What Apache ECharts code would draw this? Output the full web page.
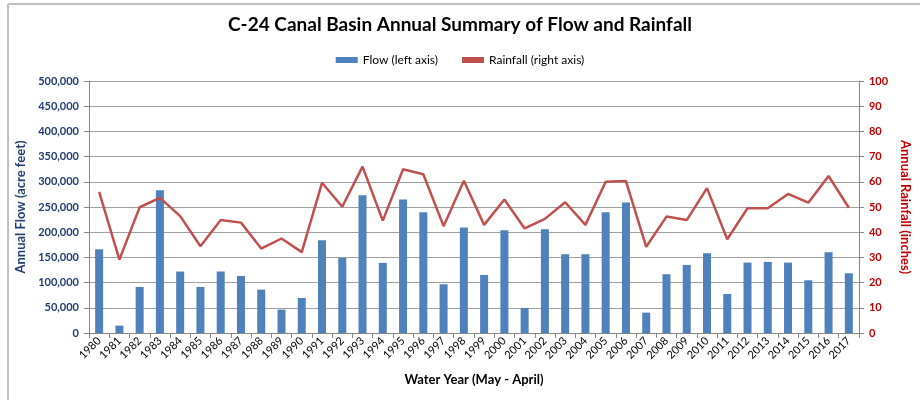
<!DOCTYPE html>
<html>
<head>
<meta charset="utf-8">
<script src="https://cdn.jsdelivr.net/npm/echarts@6/dist/echarts.min.js"></script>
<style>
  html, body { margin: 0; padding: 0; background: #fff; }
  #chart { width: 920px; height: 400px; }
</style>
</head>
<body>
<div id="chart"></div>
<script>
// water years
const years = ['1980','1981','1982','1983','1984','1985','1986','1987','1988','1989',
  '1990','1991','1992','1993','1994','1995','1996','1997','1998','1999',
  '2000','2001','2002','2003','2004','2005','2006','2007','2008','2009',
  '2010','2011','2012','2013','2014','2015','2016','2017'];

// annual flow, acre feet
const flow = [166000, 14600, 91400, 283400, 121900, 91400, 122000, 113200, 86100, 46400,
  69500, 184100, 149000, 273500, 139100, 264900, 239700, 96700, 209300, 115200,
  204000, 49700, 206000, 156300, 156300, 239700, 258900, 40400, 116600, 135100,
  158300, 77500, 139700, 141100, 139700, 104600, 160300, 118500];

// annual rainfall, inches
const rainfall = [56.0, 29.1, 49.9, 53.6, 46.4, 34.4, 44.8, 43.8, 33.5, 37.5,
  32.1, 59.6, 50.1, 66.0, 44.6, 65.0, 63.0, 42.4, 60.4, 42.9,
  53.0, 41.5, 45.3, 51.9, 42.9, 60.0, 60.3, 34.2, 46.2, 44.8,
  57.5, 37.2, 49.5, 49.5, 55.2, 51.7, 62.3, 49.7];

const font = 'Lato, "Liberation Sans", sans-serif';
const chart = echarts.init(document.getElementById('chart'));

chart.setOption({
  animation: false,
  textStyle: { fontFamily: font },
  title: {
    text: 'C-24 Canal Basin Annual Summary of Flow and Rainfall',
    left: 'center',
    top: 10,
    textStyle: { fontSize: 19, fontWeight: 'bold', color: '#000', fontFamily: font }
  },
  legend: {
    top: 49,
    left: 'center',
    itemGap: 24,
    itemWidth: 22,
    itemHeight: 6,
    textStyle: { fontSize: 12, color: '#000', fontFamily: font },
    data: [
      { name: 'Flow (left axis)', icon: 'rect' },
      { name: 'Rainfall (right axis)', icon: 'rect', itemStyle: { color: '#c0504d' } }
    ]
  },
  graphic: [
    { type: 'line', shape: { x1: 8, y1: 4, x2: 920, y2: 4 }, style: { stroke: '#bfbfbf', lineWidth: 2 } },
    { type: 'line', shape: { x1: 8, y1: 4, x2: 8, y2: 400 }, style: { stroke: '#bfbfbf', lineWidth: 2 } }
  ],
  grid: { left: 89, right: 53, top: 81, bottom: 67 },
  xAxis: {
    type: 'category',
    data: years,
    name: 'Water Year (May - April)',
    nameLocation: 'middle',
    nameGap: 40,
    nameTextStyle: { fontSize: 13, fontWeight: 'bold', color: '#000' },
    axisLine: { lineStyle: { color: '#868686' } },
    axisTick: { show: true, length: 5, lineStyle: { color: '#868686' } },
    axisLabel: { rotate: 45, fontSize: 11, color: '#000', margin: 6, interval: 0 }
  },
  yAxis: [
    {
      type: 'value',
      min: 0,
      max: 500000,
      interval: 50000,
      name: 'Annual Flow (acre feet)',
      nameLocation: 'middle',
      nameGap: 62,
      nameTextStyle: { fontSize: 13, fontWeight: 'bold', color: '#1f3c74' },
      axisLine: { show: true, lineStyle: { color: '#868686' } },
      axisTick: { show: true, length: 5, lineStyle: { color: '#868686' } },
      axisLabel: {
        fontSize: 11, fontWeight: 'bold', color: '#1f3c74', margin: 10,
        formatter: v => v.toLocaleString('en-US')
      },
      splitLine: { lineStyle: { color: '#a0a0a0', width: 1 } }
    },
    {
      type: 'value',
      min: 0,
      max: 100,
      interval: 10,
      name: 'Annual Rainfall (inches)',
      nameLocation: 'middle',
      nameGap: 34,
      nameRotate: -90,
      nameTextStyle: { fontSize: 13, fontWeight: 'bold', color: '#c00000' },
      axisLine: { show: true, lineStyle: { color: '#868686' } },
      axisTick: { show: true, length: 5, lineStyle: { color: '#868686' } },
      axisLabel: { fontSize: 11, fontWeight: 'bold', color: '#c00000', margin: 10 },
      splitLine: { show: false }
    }
  ],
  series: [
    {
      name: 'Flow (left axis)',
      type: 'bar',
      data: flow,
      barWidth: 8,
      itemStyle: { color: '#4f81bd' }
    },
    {
      name: 'Rainfall (right axis)',
      type: 'line',
      yAxisIndex: 1,
      data: rainfall,
      symbol: 'none',
      lineStyle: { color: '#c0504d', width: 2.5 },
      itemStyle: { color: '#c0504d' }
    }
  ]
});
</script>
</body>
</html>
